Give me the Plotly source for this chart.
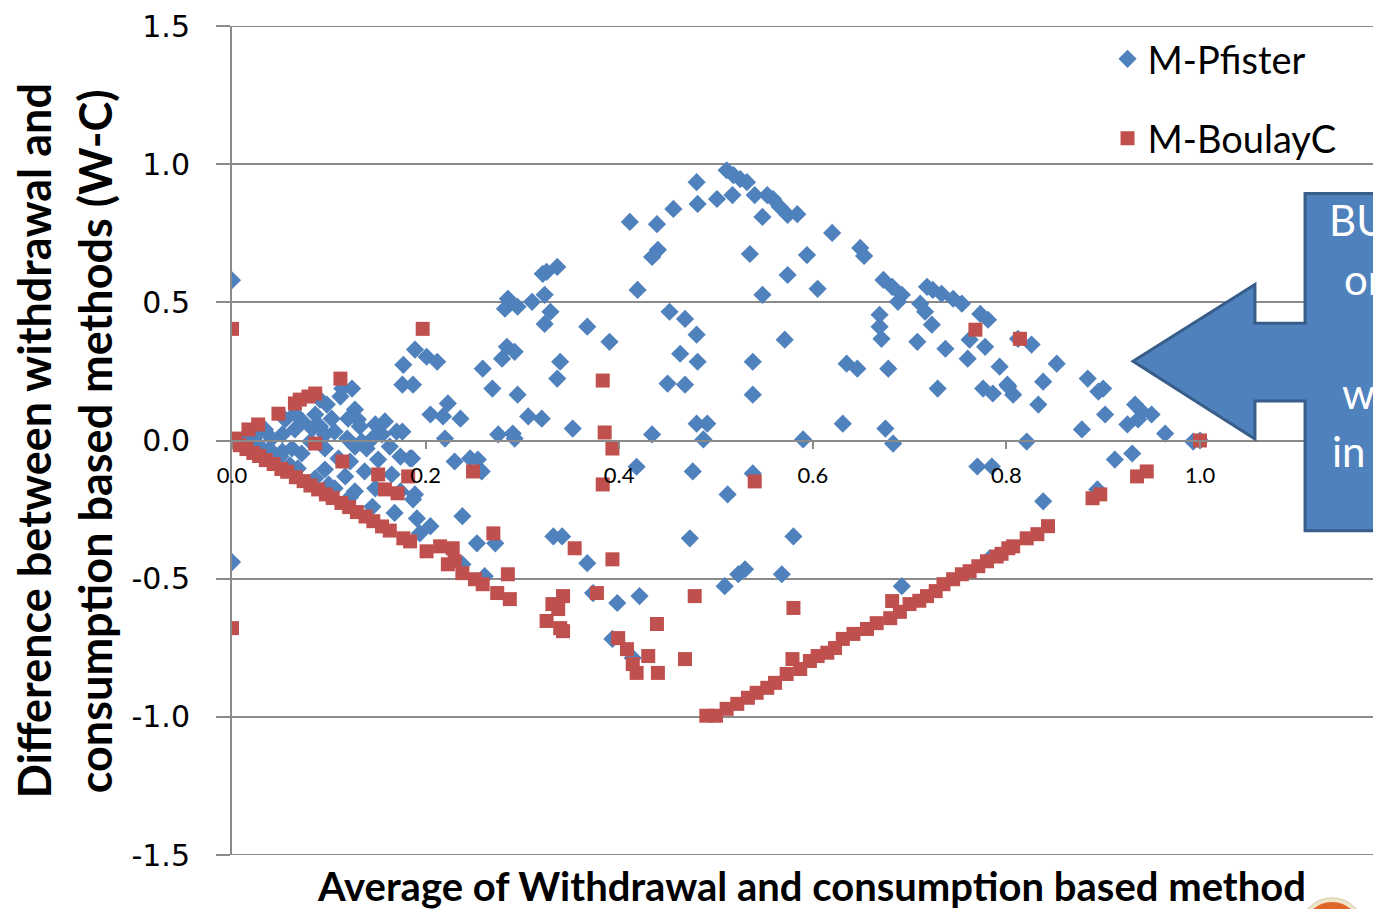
import plotly.graph_objects as go

# ---------------- data ----------------
series_names = ["M-Pfister", "M-BoulayC"]

pfister_x = [
    0, 0, 0, 0.114, 0.124, 0.098, 0.127, 0.086, 0.073, 0.103, 0.120, 0.130, 0.148,
    0.158, 0.170, 0.083, 0.065, 0.052, 0.041, 0.096, 0.106, 0.119, 0.134,
    0.145, 0.155, 0.062, 0.072, 0.096, 0.127, 0.139, 0.186, 0.151, 0.110,
    0.189, 0.191, 0.165, 0.148, 0.127, 0.106, 0.086, 0.068, 0.052,
    0.029, 0.019, 0.013, 0.027, 0.034, 0.055, 0.065, 0.091, 0.112, 0.081,
    0.122, 0.137, 0.117, 0.096, 0.050, 0.039, 0.132, 0.163, 0.174, 0.091,
    0.100, 0.122, 0.145, 0.168, 0.060, 0.040,
    0.336, 0.325, 0.321, 0.285, 0.282, 0.295, 0.310, 0.323, 0.329, 0.323,
    0.367, 0.390, 0.284, 0.292, 0.279, 0.339, 0.336, 0.259, 0.269, 0.295,
    0.306, 0.320, 0.352, 0.275, 0.290, 0.292, 0.189, 0.201, 0.212, 0.177,
    0.176, 0.187, 0.205, 0.223, 0.218, 0.236, 0.220, 0.176, 0.184, 0.230,
    0.246, 0.254,
    0.258, 0.187, 0.174, 0.238, 0.205, 0.194, 0.253, 0.272, 0.238, 0.261,
    0.332, 0.341, 0.367, 0.373, 0.398, 0.393,
    0.511, 0.518, 0.525, 0.532, 0.480, 0.501, 0.517, 0.540, 0.553, 0.559,
    0.566, 0.574, 0.584, 0.548, 0.481, 0.456, 0.411, 0.439, 0.440, 0.434,
    0.535, 0.594, 0.574, 0.605, 0.419, 0.548, 0.452, 0.468, 0.480, 0.571,
    0.463, 0.481, 0.538, 0.450, 0.468, 0.538, 0.434, 0.480, 0.491, 0.487,
    0.590, 0.418,
    0.476, 0.538, 0.512, 0.473, 0.580, 0.509, 0.523, 0.530, 0.568, 0.421,
    0.414,
    0.673, 0.682, 0.692, 0.688, 0.718, 0.724, 0.733, 0.745, 0.754, 0.711,
    0.716, 0.723, 0.669, 0.669, 0.671, 0.708, 0.737, 0.762, 0.778, 0.773,
    0.781, 0.760, 0.793, 0.635, 0.646, 0.678, 0.729, 0.776, 0.786, 0.802,
    0.807, 0.631, 0.675, 0.683, 0.620, 0.649, 0.653,
    0.812, 0.826, 0.852, 0.838, 0.801, 0.833, 0.884, 0.900, 0.895, 0.902,
    0.933, 0.940, 0.950, 0.925, 0.936, 0.878, 0.964, 0.821, 0.993, 0.930,
    0.912, 0.894, 0.838, 0.770, 0.785, 0.783, 0.692, 1.0,
]
pfister_y = [
    0.58, -0.44, 0, 0.188, 0.188, 0.130, 0.112, 0.094, 0.069, 0.079, 0.079, 0.076, 0.058,
    0.069, 0.032, 0.043, 0.040, 0.022, 0.007, 0.022, 0.032, 0.007, -0.004,
    0.007, 0.022, -0.029, -0.047, -0.029, -0.022, -0.029, -0.065, -0.069, -0.065,
    -0.195, -0.282, -0.123, -0.173, -0.184, -0.173, -0.137, -0.101, -0.040,
    -0.022, -0.007, 0.011, 0.025, 0.040, 0.076, 0.097, 0.148, 0.159, -0.004,
    -0.076, -0.112, -0.130, -0.105, -0.058, -0.032, 0.051, -0.022, -0.058, 0.051,
    -0.160, -0.205, -0.240, -0.262, -0.090, -0.060,
    0.628, 0.610, 0.603, 0.513, 0.477, 0.484, 0.502, 0.527, 0.466, 0.422,
    0.412, 0.357, 0.339, 0.321, 0.296, 0.285, 0.224, 0.260, 0.188, 0.166,
    0.087, 0.079, 0.043, 0.022, 0.025, 0.007, 0.329, 0.303, 0.285, 0.274,
    0.202, 0.202, 0.094, 0.134, 0.087, 0.079, 0.007, 0.032, -0.065, -0.076,
    -0.065, -0.069,
    -0.112, -0.213, -0.184, -0.274, -0.310, -0.336, -0.372, -0.372, -0.448, -0.491,
    -0.347, -0.347, -0.444, -0.552, -0.588, -0.718,
    0.978, 0.960, 0.946, 0.935, 0.935, 0.874, 0.888, 0.888, 0.888, 0.874,
    0.845, 0.816, 0.819, 0.809, 0.856, 0.838, 0.791, 0.783, 0.690, 0.664,
    0.675, 0.671, 0.599, 0.549, 0.545, 0.527, 0.466, 0.440, 0.383, 0.365,
    0.314, 0.285, 0.285, 0.206, 0.202, 0.166, 0.022, 0.061, 0.061, 0.004,
    0.004, -0.095,
    -0.112, -0.119, -0.195, -0.354, -0.347, -0.527, -0.484, -0.466, -0.484, -0.563,
    -0.787,
    0.581, 0.556, 0.527, 0.502, 0.556, 0.545, 0.531, 0.513, 0.495, 0.495,
    0.466, 0.419, 0.455, 0.412, 0.368, 0.357, 0.332, 0.365, 0.339, 0.458,
    0.437, 0.296, 0.267, 0.278, 0.260, 0.260, 0.188, 0.188, 0.170, 0.195,
    0.166, 0.061, 0.043, -0.011, 0.751, 0.697, 0.668,
    0.368, 0.347, 0.278, 0.213, 0.202, 0.130, 0.224, 0.188, 0.177, 0.094,
    0.130, 0.105, 0.094, 0.058, 0.076, 0.040, 0.025, -0.004, -0.004, -0.047,
    -0.069, -0.177, -0.220, -0.094, -0.094, -0.426, -0.527, 0.0,
]

boulay_x = [
    0, 0, 0.112, 0.086, 0.079, 0.070, 0.065, 0.048, 0.027, 0.017,
    0.003, 0, 0.086, 0.114, 0.197, 0.151, 0.158, 0.171, 0.182, 0.249,
    0.008, 0.015, 0.022, 0.028, 0.035, 0.043, 0.051, 0.057, 0.066, 0.074,
    0.081, 0.089, 0.097, 0.104, 0.113, 0.121, 0.129, 0.138, 0.146, 0.155,
    0.163, 0.177, 0.184, 0.201,
    0.215, 0.228, 0.223, 0.230, 0.238, 0.251, 0.259, 0.274, 0.287, 0.285,
    0.270, 0.331, 0.342, 0.337, 0.325, 0.339, 0.342, 0.354, 0.393, 0.377,
    0.383, 0.393, 0.399, 0.383, 0.385,
    0.540, 0.478, 0.580, 0.439, 0.408, 0.430, 0.414, 0.418, 0.440, 0.468,
    0.490, 0.500, 0.511, 0.522, 0.533, 0.542, 0.553, 0.561, 0.573, 0.579,
    0.587, 0.597, 0.605,
    0.615, 0.623, 0.631, 0.642, 0.656, 0.666, 0.680, 0.682, 0.700, 0.718,
    0.735, 0.745, 0.754, 0.762, 0.771, 0.780, 0.802, 0.807, 0.821, 0.832,
    0.843, 0.690, 0.710, 0.727, 0.790, 0.795,
    0.768, 0.814, 1.0, 0.945, 0.935, 0.897, 0.889,
]
boulay_y = [
    0.404, -0.679, 0.224, 0.170, 0.159, 0.148, 0.134, 0.097, 0.058, 0.040,
    0.007, 0, -0.011, -0.076, 0.404, -0.123, -0.177, -0.191, -0.130, -0.112,
    -0.017, -0.031, -0.045, -0.056, -0.071, -0.085, -0.103, -0.113, -0.133, -0.147,
    -0.163, -0.177, -0.195, -0.208, -0.226, -0.241, -0.259, -0.275, -0.292, -0.311,
    -0.326, -0.354, -0.365, -0.401,
    -0.383, -0.390, -0.448, -0.437, -0.480, -0.502, -0.520, -0.552, -0.574, -0.484,
    -0.336, -0.592, -0.563, -0.610, -0.653, -0.679, -0.690, -0.390, -0.430, -0.552,
    -0.159, -0.029, -0.715, 0.217, 0.029,
    -0.148, -0.563, -0.606, -0.664, -0.755, -0.780, -0.809, -0.841, -0.841, -0.791,
    -0.996, -0.996, -0.971, -0.953, -0.931, -0.913, -0.895, -0.877, -0.845, -0.791,
    -0.827, -0.798, -0.780,
    -0.768, -0.751, -0.718, -0.700, -0.682, -0.661, -0.643, -0.581, -0.592, -0.563,
    -0.520, -0.502, -0.484, -0.473, -0.455, -0.437, -0.390, -0.383, -0.354, -0.339,
    -0.310, -0.620, -0.580, -0.545, -0.420, -0.410,
    0.401, 0.368, 0, -0.112, -0.130, -0.195, -0.209,
]

x_tick_vals = [0.0, 0.2, 0.4, 0.6, 0.8, 1.0]
x_tick_text = ["0.0", "0.2", "0.4", "0.6", "0.8", "1.0"]
y_tick_vals = [-1.5, -1.0, -0.5, 0.0, 0.5, 1.0, 1.5]
y_tick_text = ["-1.5", "-1.0", "-0.5", "0.0", "0.5", "1.0", "1.5"]

x_title = "Average of Withdrawal and consumption based method"
y_title_lines = ["Difference between withdrawal and",
                 "consumption based methods (W-C)"]
callout_lines = ["BU", "or", "wi", "in"]

# ---------------- styling ----------------
BLUE = "#4F81BD"
RED = "#C0504D"
GRID = "#8A8A8A"

fig = go.Figure()
fig.add_trace(go.Scatter(
    x=pfister_x, y=pfister_y, mode="markers", name=series_names[0],
    legendgroup="a",
    marker=dict(symbol="diamond", size=14, color=BLUE, line=dict(width=0)),
))
fig.add_trace(go.Scatter(
    x=boulay_x, y=boulay_y, mode="markers", name=series_names[1],
    legendgroup="b",
    marker=dict(symbol="square", size=14, color=RED, line=dict(width=0)),
))

# the page body adds an 8px offset, so the figure is 8px smaller than the window
fig.update_layout(
    width=1373, height=901,
    margin=dict(l=224, r=0, t=16, b=54, pad=0),
    paper_bgcolor="white", plot_bgcolor="white",
    showlegend=True,
    legend=dict(
        x=0.762, y=0.998, xanchor="left", yanchor="top",
        font=dict(family="Lato", size=38, color="black"),
        tracegroupgap=27, bgcolor="rgba(0,0,0,0)",
    ),
    xaxis=dict(
        range=[0, 1.187], anchor="free", position=0.5,
        showline=True, linecolor=GRID, linewidth=2,
        ticks="outside", ticklen=7, tickwidth=2, tickcolor=GRID,
        tickvals=x_tick_vals, ticktext=x_tick_text,
        tickfont=dict(family="Lato", size=22, color="black"),
        ticklabelstandoff=8,
        showgrid=False, zeroline=False,
    ),
    yaxis=dict(
        range=[-1.5, 1.5],
        showline=True, linecolor=GRID, linewidth=2,
        ticks="outside", ticklen=14, tickwidth=2, tickcolor=GRID,
        tickvals=y_tick_vals, ticktext=y_tick_text,
        tickfont=dict(family="DejaVu Sans", size=30, color="black"),
        ticklabelstandoff=20, ticklabeloverflow="allow",
        showgrid=True, gridcolor=GRID, gridwidth=2,
        zeroline=False,
    ),
)

# gridlines at the range ends (plotly omits grid lines on the plot edges)
for yv in (y_tick_vals[0], y_tick_vals[-1]):
    fig.add_shape(type="line", xref="paper", yref="y", x0=0, x1=1, y0=yv, y1=yv,
                  line=dict(color=GRID, width=2), layer="below")

# axis titles
fig.add_annotation(
    text=f"<b>{x_title}</b>", xref="paper", yref="paper",
    x=0.504, y=-0.037, xanchor="center", yanchor="middle", showarrow=False,
    font=dict(family="Lato", size=40, color="black"),
)
for xp, line in zip([-0.172, -0.119], y_title_lines):
    fig.add_annotation(
        text=f"<b>{line}</b>", xref="paper", yref="paper",
        x=xp, y=0.4994, xanchor="center", yanchor="middle", showarrow=False,
        textangle=-90,
        font=dict(family="Lato", size=45, color="black"),
    )

# call-out arrow
arrow_path = ("M 0.7842,0.5957 L 0.8903,0.6883 L 0.8903,0.6414 L 0.9339,0.6414 "
              "L 0.9339,0.7978 L 1.08,0.7978 L 1.08,0.3911 L 0.9339,0.3911 "
              "L 0.9339,0.5475 L 0.8903,0.5475 L 0.8903,0.5018 Z")
fig.add_shape(type="path", path=arrow_path, xref="paper", yref="paper",
              fillcolor=BLUE, line=dict(color="#385D8A", width=3), layer="above")

for (xp, yp), txt in zip([(0.9530, 0.7665), (0.9660, 0.6943),
                          (0.9640, 0.5572), (0.9560, 0.4874)], callout_lines):
    fig.add_annotation(
        text=txt, xref="paper", yref="paper", x=xp, y=yp,
        xanchor="left", yanchor="middle", showarrow=False,
        font=dict(family="Lato", size=42, color="white"),
    )

# partially visible logo at bottom-right corner
fig.add_shape(type="circle", xref="paper", yref="paper",
              x0=0.9295, x1=0.9852, y0=-0.1288, y1=-0.0517,
              fillcolor="#EFE3C8", line=dict(color="#D9C9A3", width=1), layer="above")
fig.add_shape(type="circle", xref="paper", yref="paper",
              x0=0.9330, x1=0.9817, y0=-0.1240, y1=-0.0566,
              fillcolor="#E0662A", line=dict(width=0), layer="above")

fig.write_html("out.html")
